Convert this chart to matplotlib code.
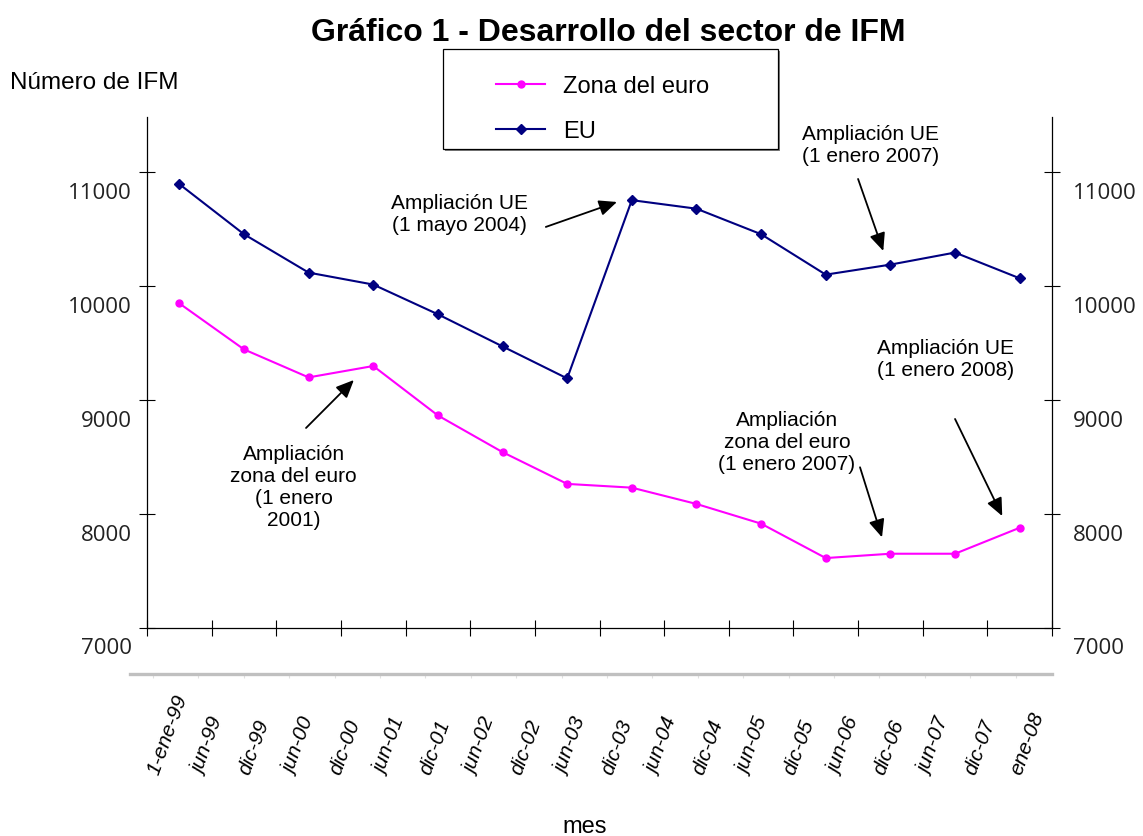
import numpy as np
from matplotlib import pyplot as plt
from matplotlib.patches import Rectangle

# number of MFIs
eu = [10897, 10457, 10120, 10015, 9754, 9472, 9191, 10756, 10681, 10457, 10102, 10190, 10296, 10070]
euro = [9850, 9446, 9200, 9300, 8866, 8544, 8265, 8232, 8089, 7916, 7614, 7652, 7652, 7880]

months = ["1-ene-99", "jun-99", "dic-99", "jun-00", "dic-00", "jun-01", "dic-01", "jun-02",
          "dic-02", "jun-03", "dic-03", "jun-04", "dic-04", "jun-05", "dic-05", "jun-06",
          "dic-06", "jun-07", "dic-07", "ene-08"]
yticks = [7000, 8000, 9000, 10000, 11000]

plt.rcParams["font.family"] = ["Liberation Sans", "DejaVu Sans"]

W, H = 1143, 837
fig = plt.figure(figsize=(W / 100, H / 100), dpi=100)

def fx(px):
    return px / W

def fy(py):
    return 1 - py / H

ax = fig.add_axes([fx(147), fy(629), fx(1052) - fx(147), fy(118) - fy(629)])
x = np.arange(len(eu))
ax.plot(x, euro, color="#ff00ff", marker="o", markersize=5, lw=1.5, label="Zona del euro")
ax.plot(x, eu, color="#000080", marker="D", markersize=5.5, lw=1.5, label="EU")

ax.set_xlim(-0.5, len(eu) - 0.5)
ax.set_ylim(7000, 11486)
ax.spines["top"].set_visible(False)
for s in ["left", "right", "bottom"]:
    ax.spines[s].set_linewidth(0.9)
ax.set_xticks(np.arange(len(eu) + 1) - 0.5)
ax.set_xticklabels([])
ax.set_yticks(yticks)
ax.set_yticklabels([])
ax.tick_params(axis="x", direction="inout", length=12, width=0.8)
ax.tick_params(axis="y", direction="inout", length=11, width=0.8, right=True)

# tick labels sit below their ticks, as in the original
for v in yticks:
    ax.annotate(str(v), xy=(0, v), xycoords=("axes fraction", "data"), xytext=(-15, -20),
                textcoords="offset pixels", ha="right", va="center",
                fontsize=16, family="Open Sans", color="#222222")
    ax.annotate(str(v), xy=(1, v), xycoords=("axes fraction", "data"), xytext=(21, -20),
                textcoords="offset pixels", ha="left", va="center",
                fontsize=16, family="Open Sans", color="#222222")

# annotations
arrow = dict(arrowstyle="-|>,head_length=0.45,head_width=0.2", mutation_scale=24, lw=1.3,
             color="black", shrinkA=0, shrinkB=0)
ax.text(4.34, 10635, "Ampliación UE\n(1 mayo 2004)", ha="center", va="center", fontsize=15)
ax.annotate("", xy=(6.77, 10740), xytext=(5.67, 10521), arrowprops=arrow)

ax.text(1.77, 8238, "Ampliación\nzona del euro\n(1 enero\n2001)", ha="center", va="center", fontsize=15)
ax.annotate("", xy=(2.70, 9177), xytext=(1.96, 8756), arrowprops=arrow)

ax.text(10.69, 11241, "Ampliación UE\n(1 enero 2007)", ha="center", va="center", fontsize=15)
ax.annotate("", xy=(10.89, 10310), xytext=(10.50, 10942), arrowprops=arrow)

ax.text(11.85, 9362, "Ampliación UE\n(1 enero 2008)", ha="center", va="center", fontsize=15)
ax.annotate("", xy=(12.73, 7983), xytext=(12.0, 8835), arrowprops=arrow)

ax.text(9.40, 8633, "Ampliación\nzona del euro\n(1 enero 2007)", ha="center", va="center", fontsize=15)
ax.annotate("", xy=(10.87, 7796), xytext=(10.53, 8411), arrowprops=arrow)

# legend with a boxed frame and a small shadow
fig.patches.append(Rectangle((fx(445), fy(152)), fx(335), fy(0) - fy(100), transform=fig.transFigure,
                             facecolor="#808080", edgecolor="none", zorder=1))
fig.patches.append(Rectangle((fx(443), fy(150)), fx(335), fy(0) - fy(100), transform=fig.transFigure,
                             facecolor="white", edgecolor="black", lw=0.9, zorder=2))
handles, labels = ax.get_legend_handles_labels()
fig.legend(handles, labels, loc="upper left", bbox_to_anchor=(fx(496), fy(76)),
           frameon=False, fontsize=17, borderpad=0, borderaxespad=0,
           handlelength=2.08, handletextpad=0.76, labelspacing=0.97, numpoints=1)

# category strip below the plot
ax2 = fig.add_axes([fx(130), fy(774), fx(1052) - fx(130), fy(675) - fy(774)])
ax2.set_xlim(-0.507, 19.8)
ax2.set_ylim(0, 1)
for s in ["left", "right", "bottom"]:
    ax2.spines[s].set_visible(False)
ax2.spines["top"].set_color("#c0c0c0")
ax2.spines["top"].set_linewidth(2.4)
ax2.set_yticks([])
ax2.set_xticks(np.arange(len(months)))
ax2.set_xticklabels(months, fontsize=15, fontstyle="italic")
ax2.tick_params(axis="x", bottom=False, top=True, labelbottom=True, direction="in",
                length=3, color="#e0e0e0", pad=0)
for lab in ax2.get_xticklabels():
    lab.set_rotation(70)
    lab.set_ha("left")
    lab.set_va("center")
    lab.set_rotation_mode("anchor")
ax2.patch.set_visible(False)

fig.text(fx(608), fy(33), "Gráfico 1 - Desarrollo del sector de IFM", ha="center", va="center",
         fontsize=23, weight="bold")
fig.text(fx(10), fy(83), "Número de IFM", ha="left", va="center", fontsize=17.5)
fig.text(fx(585), fy(827), "mes", ha="center", va="center", fontsize=17)

fig.savefig("out.png", dpi=100)
